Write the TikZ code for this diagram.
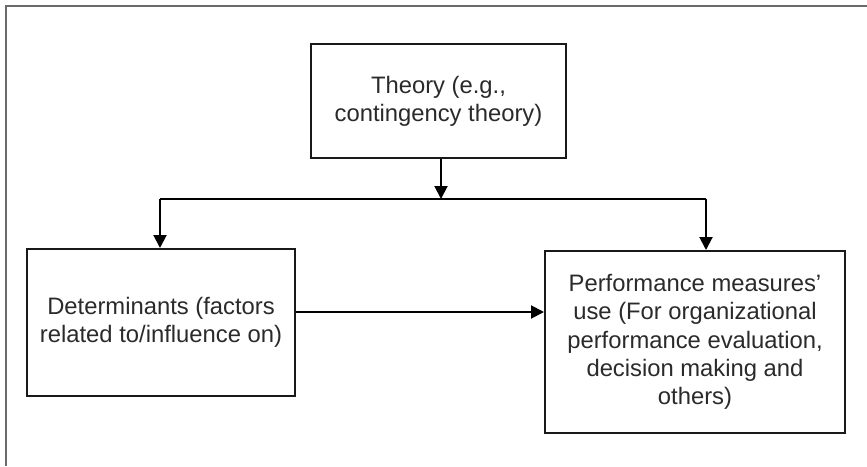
\documentclass[tikz,border=0pt]{standalone}
\usepackage{fontspec}
\setmainfont{Liberation Sans}
\usetikzlibrary{arrows.meta}
\definecolor{txt}{HTML}{2A2A2A}
\definecolor{framec}{HTML}{6A6A6A}
\begin{document}
\begin{tikzpicture}[x=1pt,y=-1pt,
  boxn/.style={draw=black!90,line width=2pt,align=center,inner sep=0pt,
    font=\fontsize{23.8}{28.3}\selectfont,text=txt},
  conn/.style={line width=2pt,draw=black},
  arr/.style={conn,-{Triangle[length=13pt,width=13pt]}}]
\useasboundingbox (0,0) rectangle (867,466);
\draw[framec,line width=2pt] (6,466) -- (6,6) -- (867,6);
\node[boxn,minimum width=255pt,minimum height=114pt] (theory) at (438.5,101)
  {Theory (e.g.,\\contingency theory)};
\node[boxn,minimum width=268pt,minimum height=147pt] (det) at (161,322.5)
  {Determinants (factors\\related to/influence on)};
\node[boxn,minimum width=300pt,minimum height=182pt] (perf) at (695,342)
  {Performance measures'\\use (For organizational\\performance evaluation,\\decision making and\\others)};
\coordinate (j) at (441,199);
\coordinate (jl) at (160,199);
\coordinate (jr) at (706,199);
\coordinate (mid) at (300,312);
\draw[arr] (theory.south -| j) -- (j);
\draw[conn] (jl) -- (jr);
\draw[arr] (jl) -- (det.north -| jl);
\draw[arr] (jr) -- (perf.north -| jr);
\draw[arr] (det.east |- mid) -- (perf.west |- mid);
\end{tikzpicture}
\end{document}
